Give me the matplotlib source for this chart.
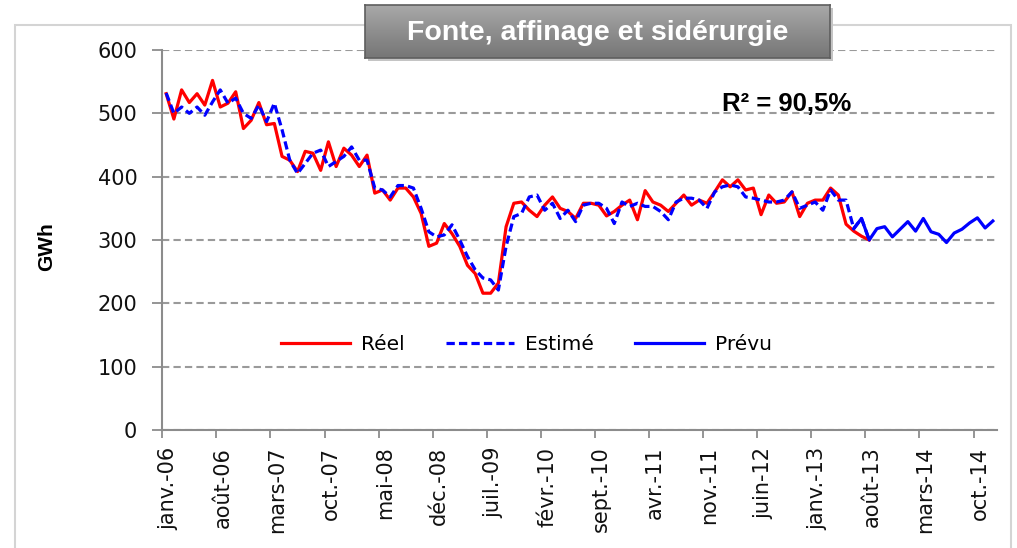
import matplotlib
matplotlib.use("Agg")
import matplotlib.pyplot as plt
import numpy as np
from matplotlib.patches import Rectangle
from matplotlib.colors import LinearSegmentedColormap

# ---------------- data ----------------
month_names = ['janv.', 'févr.', 'mars', 'avr.', 'mai', 'juin',
               'juil.', 'août', 'sept.', 'oct.', 'nov.', 'déc.']
start_year = 2006
n_categories = 108  # janv.-06 .. déc.-14
categories = [f"{month_names[i % 12]}-{(start_year + i // 12) % 100:02d}"
              for i in range(n_categories)]
label_step = 7

reel = [531, 491, 537, 517, 531, 513, 552, 510, 516, 534,
        476, 489, 517, 482, 484, 432, 426, 408, 440, 437,
        410, 455, 416, 445, 434, 416, 434, 374, 379, 363,
        382, 382, 368, 342, 290, 295, 326, 310, 290, 260,
        247, 216, 216, 232, 321, 358, 360, 347, 337, 355,
        368, 350, 345, 334, 358, 358, 355, 338, 345, 355,
        363, 332, 378, 360, 355, 345, 358, 371, 355, 363,
        358, 376, 395, 384, 395, 379, 382, 340, 371, 358,
        360, 376, 337, 358, 363, 363, 382, 371, 325, 314,
        306, 300]

estime = [532, 500, 510, 500, 510, 497, 518, 537, 516, 524,
          500, 492, 513, 487, 516, 474, 426, 405, 421, 437,
          442, 416, 424, 432, 447, 426, 426, 382, 379, 368,
          386, 386, 382, 350, 313, 305, 308, 324, 300, 274,
          253, 240, 237, 221, 290, 337, 342, 368, 371, 347,
          358, 334, 347, 329, 355, 358, 358, 350, 326, 360,
          353, 358, 353, 353, 345, 332, 360, 366, 366, 363,
          350, 376, 384, 387, 384, 368, 366, 363, 360, 360,
          363, 376, 350, 355, 360, 347, 379, 363, 363, 318,
          334, 300]

prevu_start = 89
prevu = [318, 334, 300, 318, 321, 305, 317, 329, 314, 334,
         313, 309, 296, 311, 317, 327, 335, 319, 330]

series_names = ['Réel', 'Estimé', 'Prévu']
y_ticks = [0, 100, 200, 300, 400, 500, 600]
title = 'Fonte, affinage et sidérurgie'
r2_text = 'R² = 90,5%'
y_label = 'GWh'

# ---------------- figure ----------------
W, H = 1017, 548
fig = plt.figure(figsize=(W / 100, H / 100), dpi=100)
fig.patch.set_facecolor('white')

# outer chart border
fig.add_artist(Rectangle((15 / W, -0.05), (1011 - 15) / W, (H - 25) / H + 0.05,
                         transform=fig.transFigure, fill=False,
                         ec='#d4d4d4', lw=1.5, zorder=-1))

ax = fig.add_axes([162.3 / W, 118 / H, 834.4 / W, 380 / H])

x_reel = np.arange(len(reel))
x_est = np.arange(len(estime))
x_prev = np.arange(prevu_start, prevu_start + len(prevu))

l_reel, = ax.plot(x_reel, reel, color='#ff0000', lw=2.3, label=series_names[0],
                  zorder=3, solid_joinstyle='round')
l_est, = ax.plot(x_est, estime, color='#0000ff', lw=2.3, ls=(0, (2.6, 1.3)),
                 label=series_names[1], zorder=4)
l_prev, = ax.plot(x_prev, prevu, color='#0000ff', lw=2.3, label=series_names[2],
                  zorder=5, solid_joinstyle='round')

ax.set_xlim(-0.5, n_categories - 0.5)
ax.set_ylim(0, 600)
ax.set_yticks(y_ticks)
ax.set_yticklabels([str(v) for v in y_ticks], fontsize=15, color='#111111')
ax.yaxis.grid(True, ls=(0, (3.5, 2)), color='#9a9a9a', lw=1.5)
ax.set_axisbelow(True)

for s in ['top', 'right']:
    ax.spines[s].set_visible(False)
for s in ['left', 'bottom']:
    ax.spines[s].set_color('#8c8c8c')
    ax.spines[s].set_linewidth(1.5)

ax.tick_params(axis='y', length=7, width=1.3, color='#8c8c8c', pad=11)

major = np.arange(0, n_categories, label_step)
ax.set_xticks(major + 0.3)
ax.set_xticklabels([categories[i] for i in major], rotation=90,
                   fontsize=15, color='#111111')
ax.set_xticks(np.arange(-0.5, n_categories, label_step), minor=True)
ax.tick_params(axis='x', which='major', length=0, pad=12)
ax.tick_params(axis='x', which='minor', length=6, width=1.3, color='#8c8c8c')

ax.legend(handles=[l_reel, l_est, l_prev], loc='center',
          bbox_to_anchor=(0.4365, 0.226), ncol=3, frameon=False,
          fontsize=14.5, handlelength=3.4, columnspacing=2.05,
          handletextpad=0.55)

fig.text(47 / W, 1 - 247 / H, y_label, rotation=90, ha='center', va='center',
         fontsize=15, fontweight='bold', family='Liberation Sans')

fig.text(722 / W, 1 - 104 / H, r2_text, ha='left', va='center',
         fontsize=18.5, fontweight='bold', family='Liberation Sans')

# title box with shadow and gradient
bx0, by0, bx1, by1 = 365, 5, 830, 58
fig.add_artist(Rectangle(((bx0 + 3) / W, 1 - (by1 + 3) / H), (bx1 - bx0) / W,
                         (by1 - by0) / H, transform=fig.transFigure,
                         fc='#c4c4c4', ec='none', zorder=5))
bax = fig.add_axes([bx0 / W, 1 - by1 / H, (bx1 - bx0) / W, (by1 - by0) / H])
bax.set_zorder(10)
cmap = LinearSegmentedColormap.from_list('g', ['#767676', '#8e8e8e', '#a9a9a9'])
grad = np.linspace(0, 1, 100).reshape(-1, 1)
bax.imshow(grad, aspect='auto', cmap=cmap, extent=[0, 1, 0, 1], origin='lower')
bax.set_xlim(0, 1)
bax.set_ylim(0, 1)
bax.set_xticks([])
bax.set_yticks([])
for s in bax.spines.values():
    s.set_color('#5e5e5e')
    s.set_linewidth(1.2)
bax.text(0.5, 0.47, title, ha='center', va='center', color='white',
         fontsize=20.5, fontweight='bold', family='Liberation Sans',
         transform=bax.transAxes)

fig.savefig('out.png', dpi=100)
